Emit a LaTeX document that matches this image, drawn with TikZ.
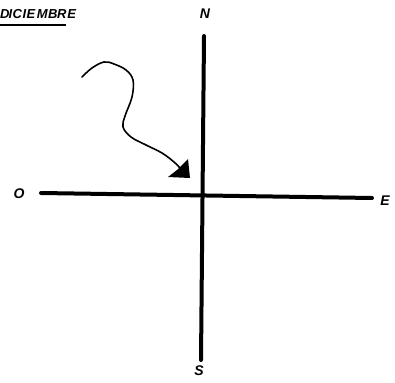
\documentclass[tikz,border=0pt]{standalone}
\usepackage{fontspec}
\setsansfont{Liberation Sans}
\usetikzlibrary{arrows.meta}
\begin{document}
\begin{tikzpicture}[x=1pt,y=-1pt,
  lbl/.style={font=\sffamily\bfseries\itshape\fontsize{14}{14}\selectfont, inner sep=0pt},
  axis/.style={line width=4pt, line cap=round}]
\useasboundingbox (0,0) rectangle (395,382);
\node[lbl, anchor=north west, font=\sffamily\bfseries\itshape\fontsize{13}{13}\selectfont] (title) at (0,9) {D\kern-1pt I\kern0.5pt C\kern0.5pt I\kern0.5pt E\kern1.5pt M\kern0.5pt B\kern-0.5pt R\kern1pt E};
\draw[line width=2pt] (0,25.5) -- (66,25.5);
\node[lbl] (n) at (205,14) {N};
\node[lbl] (s) at (199,371) {S};
\node[lbl] (o) at (19,194) {O};
\node[lbl] (e) at (385,201) {E};
\coordinate (top) at (204,36);
\coordinate (bot) at (201,360);
\coordinate (left) at (41,193);
\coordinate (right) at (372,198);
\draw[axis] (top) -- (bot);
\draw[axis] (left) -- (right);
\draw[line width=1.6pt, line cap=round, line join=round]
  plot[smooth, tension=0.6] coordinates {(82,77) (92,68) (104,62) (114,64) (126,70) (133,80) (132,97) (125,116) (123,127) (131,137) (146,145) (162,153) (174,162) (180,168)};
\fill (188,159) -- (190,178) -- (168,177) -- (177,170) -- cycle;
\end{tikzpicture}
\end{document}
